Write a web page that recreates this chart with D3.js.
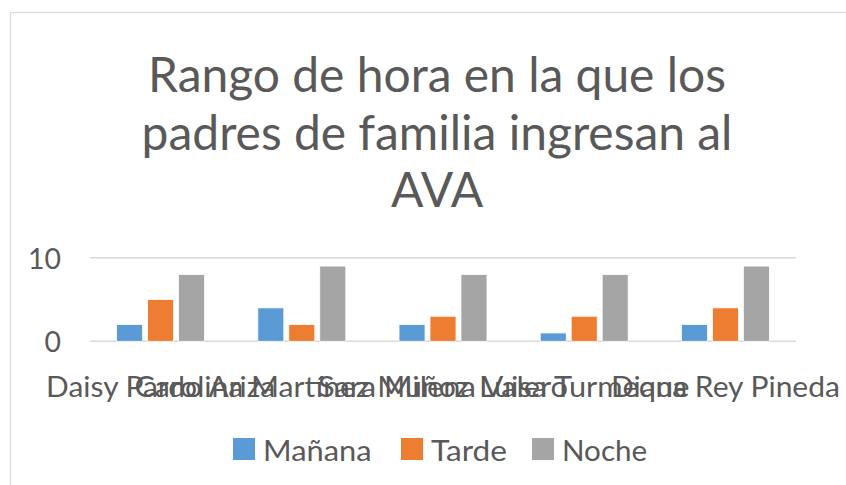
<!DOCTYPE html>
<html>
<head>
<meta charset="utf-8">
<script src="https://cdn.jsdelivr.net/npm/d3@7"></script>
<style>
  html, body { margin: 0; padding: 0; background: #ffffff; }
  svg { display: block; }
  text { font-family: Lato, "Open Sans", sans-serif; fill: #595959; }
</style>
</head>
<body>
<svg id="chart" width="846" height="485"></svg>
<script>
const titleLines = ["Rango de hora en la que los", "padres de familia ingresan al", "AVA"];
const categories = ["Daisy Pardo Ariza", "Carolina Martínez Muñoz", "Sara Milena Valero", "Luisa Turmeque", "Diana Rey Pineda"];
const seriesNames = ["Mañana", "Tarde", "Noche"];
const manana = [2, 4, 2, 1, 2];
const tarde = [5, 2, 3, 3, 4];
const noche = [8, 9, 8, 8, 9];
const yTicks = [0, 10];
const colors = ["#5b9bd5", "#ed7d31", "#a5a5a5"];

const seriesValues = [manana, tarde, noche];
const svg = d3.select("#chart");

// approximate Calibri advance widths (em) used to give the substitute font the original text widths
const calibri = {' ':0.226,'A':0.579,'C':0.533,'D':0.615,'L':0.420,'M':0.855,'N':0.646,'P':0.517,'R':0.543,
  'S':0.459,'T':0.487,'V':0.579,'a':0.479,'c':0.423,'d':0.525,'e':0.498,'g':0.471,'h':0.525,'i':0.229,'í':0.229,
  'l':0.229,'m':0.799,'n':0.525,'ñ':0.525,'o':0.527,'q':0.525,'r':0.349,'s':0.391,'t':0.335,'u':0.525,'y':0.453,
  'z':0.395,'0':0.507,'1':0.507};
const smallPx = 32.5;       // original label size (Calibri px)
const smallFont = 29;        // substitute font size with matching cap height
function calWidth(str, px) {
  let s = 0;
  for (const ch of str) s += (calibri[ch] !== undefined ? calibri[ch] : 0.5);
  return s * px;
}
function fitCalibri(sel) {
  sel.attr("font-size", smallFont)
     .attr("lengthAdjust", "spacingAndGlyphs")
     .attr("textLength", function() { return calWidth(this.textContent, smallPx); });
}

// chart border (only left and top visible)
svg.append("rect")
  .attr("x", 10.5).attr("y", 12.5)
  .attr("width", 1000).attr("height", 1000)
  .attr("fill", "none").attr("stroke", "#d9d9d9").attr("stroke-width", 1.2);

// title
function fitWidth(sel, target) {
  const fs = parseFloat(sel.attr("font-size"));
  const w = sel.node().getComputedTextLength();
  sel.attr("font-size", fs * target / w);
  return fs * target / w;
}
const titleCx = 437;
const titleBase = [92, 150, 207];
const t0 = svg.append("text").attr("x", titleCx).attr("y", titleBase[0])
  .attr("text-anchor", "middle").attr("font-size", 50).text(titleLines[0]);
const titleFs = fitWidth(t0, 578);
titleLines.slice(1).forEach((line, i) => {
  svg.append("text").attr("x", titleCx).attr("y", titleBase[i + 1])
    .attr("text-anchor", "middle").attr("font-size", titleFs).text(line);
});

// scales
const plot = { left: 90, right: 796, top: 257.7, bottom: 341.3 };
const x0 = d3.scaleBand().domain(categories)
  .range([plot.left, plot.right]).paddingInner(0.377).paddingOuter(0.1885);
const x1 = d3.scaleBand().domain(seriesNames)
  .range([0, x0.bandwidth()]).paddingInner(0.16);
const y = d3.scaleLinear().domain([0, 10]).range([plot.bottom, plot.top]);

// gridlines
svg.append("g").selectAll("line").data(yTicks).join("line")
  .attr("x1", plot.left).attr("x2", plot.right)
  .attr("y1", d => y(d)).attr("y2", d => y(d))
  .attr("stroke", "#d9d9d9").attr("stroke-width", 1.5);

// y-axis labels
const yAxis = d3.axisLeft(y).tickValues(yTicks).tickSize(0).tickPadding(0);
const gy = svg.append("g").attr("transform", `translate(61,0)`).call(yAxis);
gy.select(".domain").remove();
gy.selectAll("text").attr("fill", "#595959")
  .attr("font-family", "Lato, 'Open Sans', sans-serif").attr("dy", "0.36em");
fitCalibri(gy.selectAll("text"));

// bars
const groups = svg.append("g").selectAll("g").data(categories).join("g")
  .attr("transform", d => `translate(${x0(d)},0)`);
groups.selectAll("rect")
  .data((d, ci) => seriesNames.map((s, si) => ({ s, si, v: seriesValues[si][ci] })))
  .join("rect")
  .attr("x", d => x1(d.s))
  .attr("y", d => y(d.v))
  .attr("width", x1.bandwidth())
  .attr("height", d => y(0) - y(d.v))
  .attr("fill", d => colors[d.si])
  .attr("stroke", "#ffffff").attr("stroke-width", 0.8);

// x-axis labels
const xAxis = d3.axisBottom(x0).tickSize(0).tickPadding(0);
const gx = svg.append("g").attr("transform", `translate(0,${plot.bottom})`).call(xAxis);
gx.select(".domain").remove();
gx.selectAll("text").attr("fill", "#595959")
  .attr("font-family", "Lato, 'Open Sans', sans-serif")
  .attr("dy", null).attr("y", 56);
fitCalibri(gx.selectAll("text"));

// legend
const legendX = [233, 401, 532];
const lg = svg.append("g").selectAll("g").data(seriesNames).join("g")
  .attr("transform", (d, i) => `translate(${legendX[i]},438)`);
lg.append("rect").attr("width", 22).attr("height", 22)
  .attr("fill", (d, i) => colors[i]);
const lt = lg.append("text").attr("x", 30).attr("y", 23).text(d => d);
fitCalibri(lt);
</script>
</body>
</html>
